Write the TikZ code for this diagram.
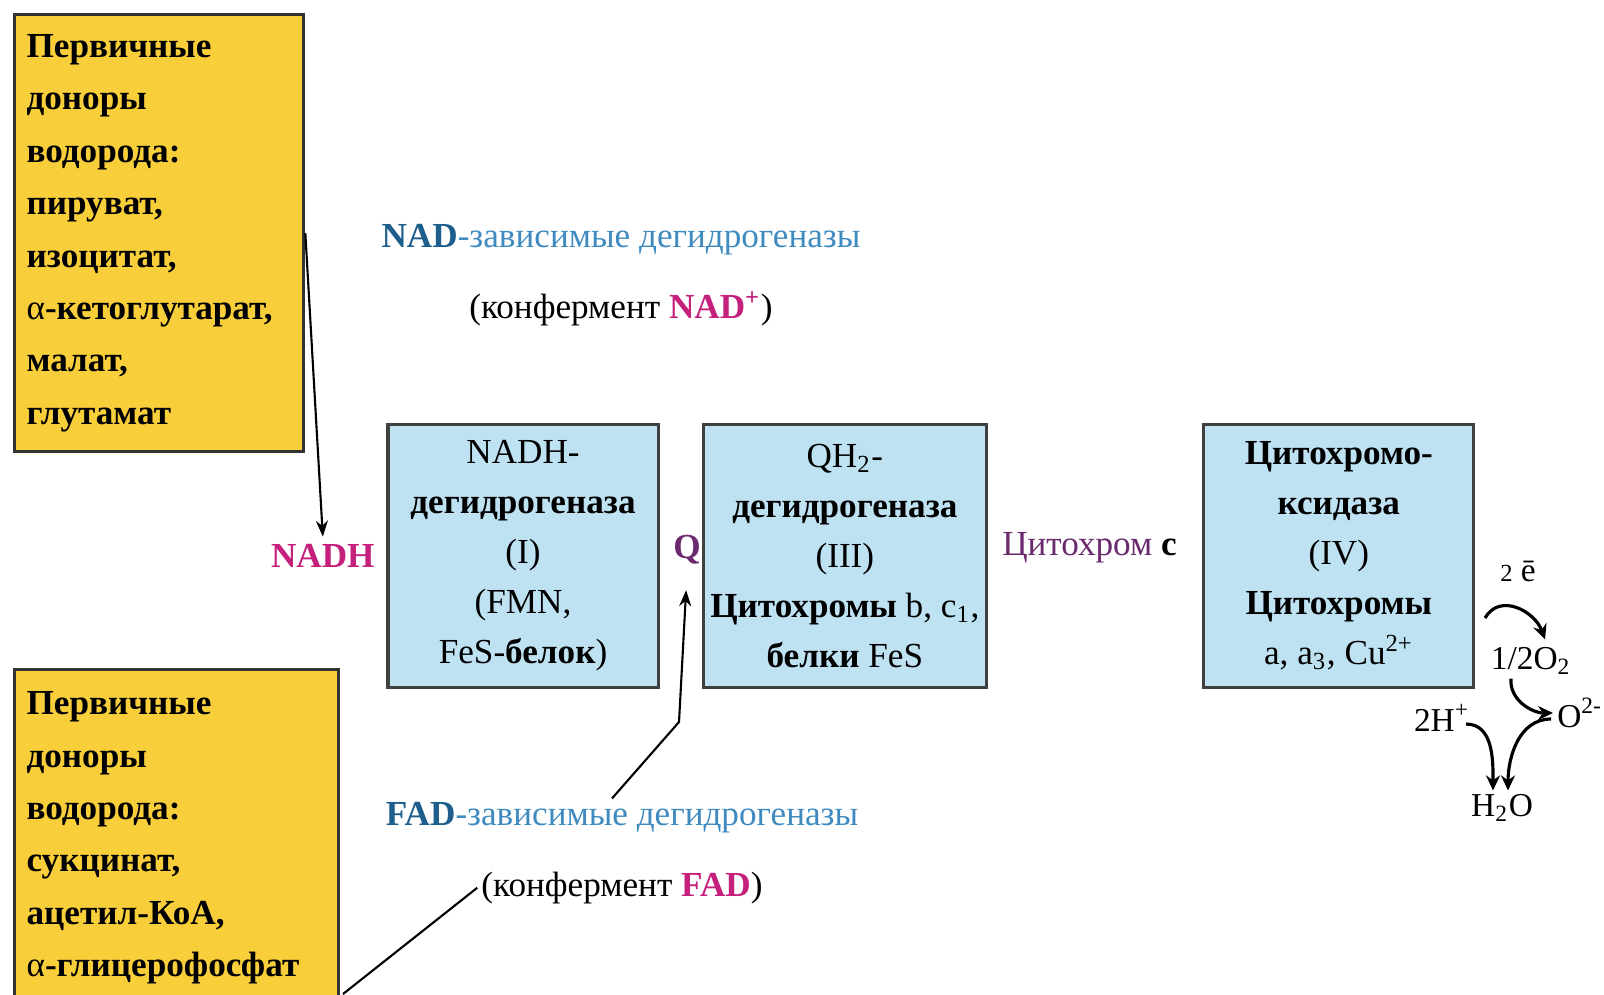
\documentclass[tikz,border=0pt]{standalone}
\usepackage{fontspec}
\setmainfont{Liberation Serif}
\usepackage{xcolor}
\usetikzlibrary{positioning}
\usetikzlibrary{calc}
\usetikzlibrary{arrows.meta}

\definecolor{donoryellow}{HTML}{F8CE3A}
\definecolor{complexblue}{HTML}{BFE2F3}
\definecolor{nadpink}{HTML}{C4207C}
\definecolor{qpurple}{HTML}{6B2A6E}
\definecolor{dehdark}{HTML}{1D5E8C}
\definecolor{dehlight}{HTML}{3F8BC0}

\begin{document}
\begin{tikzpicture}[x=0.01cm, y=-0.01cm,
  donor/.style={draw=black!80, line width=0.9pt, fill=donoryellow, align=left, inner xsep=0.12cm, font=\bfseries\fontsize{10}{14.9}\selectfont},
  complex/.style={draw=black!75, line width=0.9pt, fill=complexblue, minimum width=2.7cm, minimum height=2.63cm, align=center, inner sep=0pt, font=\fontsize{10}{14.2}\selectfont},
  carrier/.style={font=\bfseries\fontsize{10}{12}\selectfont, inner sep=2pt},
  dehlabel/.style={font=\fontsize{10}{12}\selectfont, inner sep=1pt},
  chem/.style={font=\fontsize{9.5}{11}\selectfont, inner sep=1pt},
  link/.style={line width=0.6pt, -{Stealth[length=1.6mm,width=1.2mm]}},
  react/.style={line width=0.9pt, -{Stealth[length=1.5mm,width=1.4mm]}}]
\clip (0,0) rectangle (1604,994);

\node[donor, anchor=north west, text width=2.65cm, minimum height=4.37cm] (donor1) at (13,13)
  {Первичные\\доноры\\водорода:\\пируват,\\изоцитат,\\{\mdseries α}-кетоглутарат,\\малат,\\глутамат};
\node[donor, anchor=north west, text width=3.0cm, inner ysep=0.22cm] (donor2) at (13,668)
  {Первичные\\доноры\\водорода:\\сукцинат,\\ацетил-КоА,\\{\mdseries α}-глицерофосфат};

\node[complex] (c1) at (523,556) {NADH-\\\textbf{дегидрогеназа}\\(I)\\(FMN,\\FeS-\textbf{белок})};
\node[complex, minimum width=2.83cm, right=0.42cm of c1] (c3) {QH\textsubscript{2}-\\\textbf{дегидрогеназа}\\(III)\\\textbf{Цитохромы} b, c\textsubscript{1},\\\textbf{белки} FeS};
\node[complex, right=2.14cm of c3] (c4) {\textbf{Цитохромо-}\\\textbf{ксидаза}\\(IV)\\\textbf{Цитохромы}\\a, a\textsubscript{3}, Cu\textsuperscript{2+}};

\node[carrier, text=nadpink, left=0.04cm of c1] (nadh) {NADH};
\node[carrier, text=qpurple, right=0.06cm of c1, yshift=0.06cm] (q) {Q};
\node[dehlabel, text=qpurple, right=0.1cm of c3, yshift=0.08cm] (cytc) {Цитохром \textcolor{black}{\textbf{c}}};

\node[dehlabel] (nadlbl) at (621,240) {\textcolor{dehdark}{\textbf{NAD}}\textcolor{dehlight}{-зависимые дегидрогеназы}};
\node[dehlabel, below=0.28cm of nadlbl] (nadcof) {(конфермент \textcolor{nadpink}{\textbf{NAD\textsuperscript{+}}})};
\node[dehlabel] (fadlbl) at (622,818) {\textcolor{dehdark}{\textbf{FAD}}\textcolor{dehlight}{-зависимые дегидрогеназы}};
\node[dehlabel, below=0.3cm of fadlbl] (fadcof) {(конфермент \textcolor{nadpink}{\textbf{FAD}})};

\coordinate (fadfoot) at (343,994);
\coordinate (qbend) at (679,722);
\draw[link] (donor1.east) -- (nadh.north);
\draw[line width=0.6pt] (fadfoot) -- (fadcof.west);
\draw[link, shorten >=0.18cm] ($(fadlbl.north)+(-10,0)$) -- (qbend) -- (q.south);

\node[chem] (elec) at (1518,571) {{\scriptsize 2} ē};
\node[chem] (o2) at (1531,661) {1/2O\textsubscript{2}};
\node[chem, anchor=west] (ox) at (1553,713) {O\textsuperscript{2-}};
\node[chem, anchor=east] (hplus) at (1474,718) {2H\textsuperscript{+}};
\node[chem] (water) at (1502,808) {H\textsubscript{2}O};

\coordinate (ein) at (1485,618);
\draw[react] (ein) to[out=60, in=110, looseness=1.2] ($(o2.north)+(14,-4)$);
\draw[react] ($(o2.south)+(-20,0)$) to[out=-95, in=180] (ox.west);
\draw[react] ($(hplus.east)+(-8,6)$) to[out=0, in=90] ($(water.north)+(-9,0)$);
\draw[react] ($(ox.west)+(-2,6)$) to[out=180, in=90] ($(water.north)+(6,0)$);
\end{tikzpicture}
\end{document}
